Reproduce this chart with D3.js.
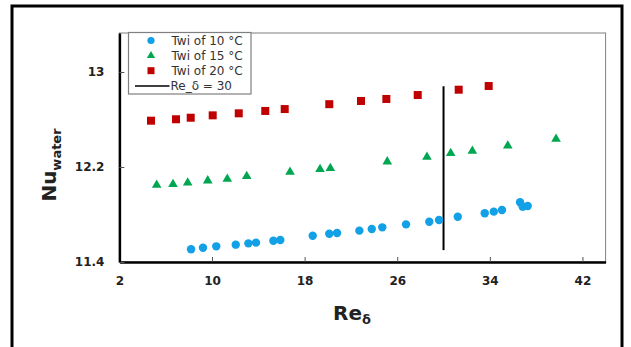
<!DOCTYPE html>
<html>
<head>
<meta charset="utf-8">
<script src="https://cdn.jsdelivr.net/npm/d3@7"></script>
<style>
  html, body { margin: 0; padding: 0; background: #fff; }
  svg { display: block; }
</style>
</head>
<body>
<svg id="chart" width="631" height="347"></svg>
<script>
// Series: Nu_water against Re_delta at three wall temperatures
const re10 = [8.19, 9.22, 10.37, 12.05, 13.14, 13.80, 15.30, 15.90, 18.70, 20.13, 20.80, 22.73, 23.80, 24.71, 26.76, 28.77, 29.61, 31.23, 33.56, 34.34, 35.05, 36.61, 36.84, 37.27];
const nu10 = [11.507, 11.52, 11.532, 11.546, 11.557, 11.563, 11.579, 11.585, 11.621, 11.638, 11.644, 11.664, 11.678, 11.692, 11.717, 11.739, 11.754, 11.781, 11.81, 11.824, 11.838, 11.903, 11.866, 11.872];

const re15 = [5.22, 6.63, 7.90, 9.63, 11.32, 13.00, 16.74, 19.33, 20.22, 25.14, 28.57, 30.62, 32.49, 35.55, 39.72];
const nu15 = [12.048, 12.054, 12.068, 12.085, 12.099, 12.122, 12.158, 12.181, 12.189, 12.245, 12.284, 12.315, 12.335, 12.379, 12.436];

const re20 = [4.73, 6.89, 8.16, 10.06, 12.31, 14.60, 16.28, 20.13, 22.87, 25.06, 27.77, 31.31, 33.90];
const nu20 = [12.59, 12.602, 12.615, 12.635, 12.652, 12.672, 12.688, 12.729, 12.756, 12.773, 12.806, 12.851, 12.882];

// Reference line Re_delta = 30
const refRe = 30;
const refNu = [11.5, 12.88];

const xTicks = [2, 10, 18, 26, 34, 42];
const yTicks = [11.4, 12.2, 13];
const legendLabels = ["Twi of 10 °C", "Twi of 15 °C", "Twi of 20 °C", "Re_δ = 30"];

const svg = d3.select("#chart");
const plot = { left: 119.4, right: 605.6, top: 33, bottom: 262 };

const x = d3.scaleLinear().domain([2, 44]).range([plot.left, plot.right]);
const y = d3.scaleLinear().domain([11.4, 11.4 + (plot.bottom - plot.top) / 118.75]).range([plot.bottom, plot.top]);

// outer frame (bottom edge runs past the canvas)
svg.append("rect")
  .attr("x", 12).attr("y", 6).attr("width", 610).attr("height", 345)
  .attr("fill", "none").attr("stroke", "#000").attr("stroke-width", 3);

// plot area border (top/right)
svg.append("rect")
  .attr("x", plot.left).attr("y", plot.top)
  .attr("width", plot.right - plot.left).attr("height", plot.bottom - plot.top)
  .attr("fill", "none").attr("stroke", "#808080").attr("stroke-width", 1);

// axes with inward ticks
const xAxis = d3.axisBottom(x).tickValues(xTicks).tickSizeInner(-5).tickSizeOuter(0).tickPadding(14).tickFormat(d3.format("d"));
const yAxis = d3.axisLeft(y).tickValues(yTicks).tickSizeInner(-5).tickSizeOuter(0).tickPadding(15).tickFormat(d => d === 13 ? "13" : d3.format(".1f")(d));

const gx = svg.append("g").attr("transform", `translate(0,${plot.bottom})`).call(xAxis);
const gy = svg.append("g").attr("transform", `translate(${plot.left},0)`).call(yAxis);

[gx, gy].forEach(g => {
  g.select(".domain").attr("stroke", "#000").attr("stroke-width", 2.5);
  g.selectAll(".tick line").attr("stroke", "#555").attr("stroke-width", 1);
  g.selectAll(".tick text")
    .attr("fill", "#222")
    .style("font-family", "DejaVu Sans, sans-serif")
    .style("font-weight", "bold")
    .style("font-size", "12px");
});

// vertical reference line
svg.append("line")
  .attr("x1", x(refRe)).attr("x2", x(refRe))
  .attr("y1", y(refNu[0])).attr("y2", y(refNu[1]))
  .attr("stroke", "#000").attr("stroke-width", 2);

const blue = "#12a0e6", green = "#00a650", red = "#c00000";

// 10 °C: circles
svg.append("g").selectAll("circle").data(d3.zip(re10, nu10)).join("circle")
  .attr("cx", d => x(d[0])).attr("cy", d => y(d[1])).attr("r", 4.2)
  .attr("fill", blue);

// 15 °C: triangles
const tri = d3.symbol().type(d3.symbolTriangle).size(40);
svg.append("g").selectAll("path").data(d3.zip(re15, nu15)).join("path")
  .attr("d", tri)
  .attr("transform", d => `translate(${x(d[0])},${y(d[1])})`)
  .attr("fill", green);

// 20 °C: squares
svg.append("g").selectAll("rect").data(d3.zip(re20, nu20)).join("rect")
  .attr("x", d => x(d[0]) - 4).attr("y", d => y(d[1]) - 4)
  .attr("width", 8).attr("height", 8)
  .attr("fill", red);

// legend
const lg = svg.append("g");
lg.append("rect")
  .attr("x", 128.5).attr("y", 32.5).attr("width", 122.5).attr("height", 61.5)
  .attr("fill", "#fff").attr("stroke", "#7f7f7f").attr("stroke-width", 1.2);
const rowY = [40.5, 55.7, 70.7, 86];
lg.append("circle").attr("cx", 151).attr("cy", rowY[0]).attr("r", 3.6).attr("fill", blue);
lg.append("path").attr("d", d3.symbol().type(d3.symbolTriangle).size(30))
  .attr("transform", `translate(151,${rowY[1]})`).attr("fill", green);
lg.append("rect").attr("x", 147.5).attr("y", rowY[2] - 3.5).attr("width", 7).attr("height", 7).attr("fill", red);
lg.append("line").attr("x1", 135).attr("x2", 169.5).attr("y1", rowY[3]).attr("y2", rowY[3])
  .attr("stroke", "#000").attr("stroke-width", 1.5);
lg.selectAll("text").data(legendLabels).join("text")
  .attr("x", (d, i) => i === 3 ? 170.5 : 171.5)
  .attr("y", (d, i) => rowY[i])
  .attr("dy", "0.36em")
  .attr("fill", "#333")
  .style("font-family", "DejaVu Sans, sans-serif")
  .style("font-size", "12px")
  .text(d => d);

// axis titles
const xt = svg.append("text")
  .attr("x", 352).attr("y", 320)
  .attr("text-anchor", "middle")
  .attr("fill", "#222")
  .style("font-family", "DejaVu Sans, sans-serif")
  .style("font-weight", "bold")
  .style("font-size", "20px");
xt.append("tspan").text("Re");
xt.append("tspan").attr("dy", 4).style("font-size", "13px").text("δ");

const yt = svg.append("text")
  .attr("transform", `translate(56,165) rotate(-90)`)
  .attr("text-anchor", "middle")
  .attr("fill", "#222")
  .style("font-family", "DejaVu Sans, sans-serif")
  .style("font-weight", "bold")
  .style("font-size", "20px");
yt.append("tspan").text("Nu");
yt.append("tspan").attr("dy", 5).style("font-size", "13px").text("water");
</script>
</body>
</html>
